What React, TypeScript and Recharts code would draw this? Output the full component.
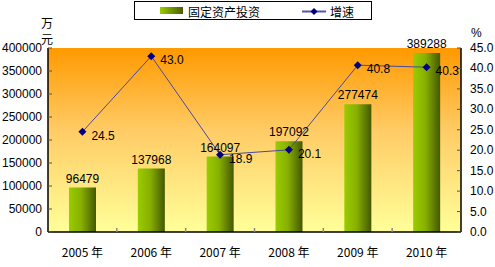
import { ComposedChart, Bar, Line, XAxis, YAxis, CartesianGrid, LabelList, Legend } from "recharts";

const years = ["2005 年", "2006 年", "2007 年", "2008 年", "2009 年", "2010 年"];
const investment = [96479, 137968, 164097, 197092, 277474, 389288];
const growth = [24.5, 43.0, 18.9, 20.1, 40.8, 40.3];
const leftTicks = [0, 50000, 100000, 150000, 200000, 250000, 300000, 350000, 400000];
const rightTicks = [0, 5, 10, 15, 20, 25, 30, 35, 40, 45];

const data = years.map((year, i) => ({ year, investment: investment[i], growth: growth[i] }));

const W = 495;
const H = 267;
const PLOT_LEFT = 48;
const PLOT_RIGHT = 461;
const FONT = "'Liberation Sans', Arial, 'Noto Sans CJK SC', sans-serif";
const CJK = "'Noto Sans CJK SC', 'Liberation Sans', sans-serif";

function LeftTick(props: any) {
  const { x, y, payload } = props;
  return (
    <g>
      <line x1={x + 6} x2={x + 10} y1={y} y2={y} stroke="#555" />
      <text x={x} y={y + 4} textAnchor="end" fontSize={12} fontFamily={FONT} fill="#000">
        {payload.value}
      </text>
    </g>
  );
}

function RightTick(props: any) {
  const { x, y, payload } = props;
  return (
    <g>
      <line x1={x - 9} x2={x - 13} y1={y} y2={y} stroke="#555" />
      <text x={x} y={y + 4} textAnchor="start" fontSize={12} fontFamily={FONT} fill="#000">
        {Number(payload.value).toFixed(1)}
      </text>
    </g>
  );
}

function BottomTick(props: any) {
  const { x, y, payload, index } = props;
  const step = (PLOT_RIGHT - PLOT_LEFT) / years.length;
  const bx = x - step / 2;
  return (
    <g>
      {index > 0 && <line x1={bx} x2={bx} y1={y} y2={y - 4} stroke="#888" strokeWidth={1.5} />}
      <text x={x} y={y + 25} textAnchor="middle" fontSize={12} fontFamily={CJK} fill="#000">
        {payload.value}
      </text>
    </g>
  );
}

function Diamond(props: any) {
  const { cx, cy } = props;
  if (cx == null || cy == null) return null;
  return <path d={`M${cx},${cy - 4}L${cx + 4},${cy}L${cx},${cy + 4}L${cx - 4},${cy}Z`} fill="#000080" />;
}

function GrowthLabel(props: any) {
  const { x, y, value } = props;
  return (
    <text x={x + 9} y={y + 8} fontSize={12} fontFamily={FONT} fill="#000">
      {Number(value).toFixed(1)}
    </text>
  );
}

function LegendBox() {
  return (
    <div
      style={{
        position: "absolute",
        left: 134,
        top: 1,
        width: 236,
        height: 17,
        border: "1px solid #000",
        background: "#fff",
        fontFamily: CJK,
        fontSize: 12,
        lineHeight: "17px",
      }}
    >
      <span
        style={{
          position: "absolute",
          left: 25,
          top: 5,
          width: 23,
          height: 7,
          background: "linear-gradient(to right, #99cc00, #4a5e00)",
        }}
      />
      <span style={{ position: "absolute", left: 53, top: 1 }}>固定资产投资</span>
      <svg style={{ position: "absolute", left: 167, top: 5 }} width={24} height={9}>
        <line x1={0} x2={24} y1={4.5} y2={4.5} stroke="#5555aa" strokeWidth={2} />
        <path d="M12,1L15.5,4.5L12,8L8.5,4.5Z" fill="#000080" />
      </svg>
      <span style={{ position: "absolute", left: 195, top: 1 }}>增速</span>
    </div>
  );
}

export default function App() {
  return (
    <div style={{ position: "absolute", left: 0, top: 0, width: W, height: H, background: "#fff" }}>
      <ComposedChart width={W} height={H} data={data} margin={{ top: 48, right: 0, bottom: 0, left: 0 }}>
        <defs>
          <linearGradient id="bgGrad" x1="0" y1="0" x2="0" y2="1">
            <stop offset="0%" stopColor="#ff9900" />
            <stop offset="45%" stopColor="#ffcc66" />
            <stop offset="100%" stopColor="#ffff99" />
          </linearGradient>
          <linearGradient id="barGrad" x1="0" y1="0" x2="1" y2="0">
            <stop offset="0%" stopColor="#99cc00" />
            <stop offset="45%" stopColor="#88b000" />
            <stop offset="100%" stopColor="#445800" />
          </linearGradient>
        </defs>
        <CartesianGrid fill="url(#bgGrad)" horizontal={false} vertical={false} stroke="none" />
        <XAxis
          dataKey="year"
          height={35}
          tickLine={false}
          tickSize={0}
          tickMargin={0}
          interval={0}
          axisLine={{ stroke: "#000", strokeWidth: 1.5 }}
          tick={<BottomTick />}
        />
        <YAxis
          yAxisId="left"
          width={48}
          domain={[0, 400000]}
          ticks={leftTicks}
          interval={0}
          tickLine={false}
          tickSize={0}
          tickMargin={6}
          axisLine={{ stroke: "#000", strokeWidth: 1.5 }}
          tick={<LeftTick />}
        />
        <YAxis
          yAxisId="right"
          orientation="right"
          width={W - PLOT_RIGHT}
          domain={[0, 45]}
          ticks={rightTicks}
          interval={0}
          tickLine={false}
          tickSize={0}
          tickMargin={9}
          axisLine={{ stroke: "#000", strokeWidth: 1.5 }}
          tick={<RightTick />}
        />
        <Legend content={() => null} />
        <Bar yAxisId="left" dataKey="investment" fill="url(#barGrad)" barSize={27} isAnimationActive={false}>
          <LabelList dataKey="investment" position="top" offset={5} fontSize={12} fontFamily={FONT} fill="#000" />
        </Bar>
        <Line
          yAxisId="right"
          dataKey="growth"
          type="linear"
          stroke="#4a4a9c"
          strokeWidth={1}
          dot={<Diamond />}
          activeDot={false}
          isAnimationActive={false}
        >
          <LabelList dataKey="growth" content={<GrowthLabel />} />
        </Line>
      </ComposedChart>
      <LegendBox />
      <div style={{ position: "absolute", left: 40, top: 15, fontFamily: CJK, fontSize: 12, lineHeight: "16px", width: 14, textAlign: "center" }}>
        万<br />元
      </div>
      <div style={{ position: "absolute", left: 471, top: 26, fontFamily: FONT, fontSize: 12 }}>%</div>
    </div>
  );
}
